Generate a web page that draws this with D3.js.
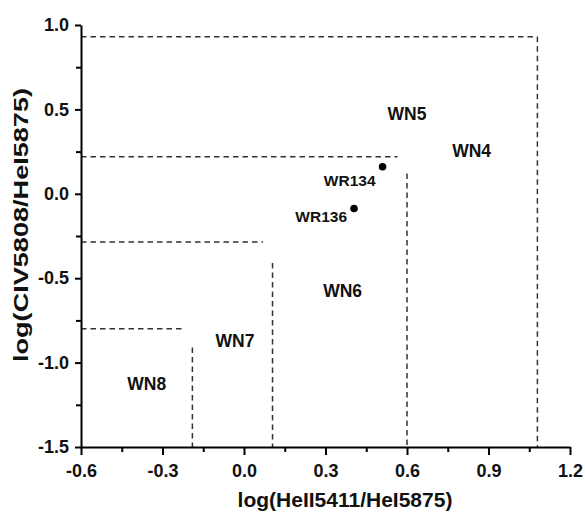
<!DOCTYPE html>
<html><head><meta charset="utf-8">
<script src="https://cdn.jsdelivr.net/npm/d3@7"></script>
<style>body{margin:0;background:#fff}svg{display:block}text{font-family:"Liberation Sans",Arial,sans-serif;font-weight:bold}</style>
</head><body><svg id="c" width="585" height="512"></svg>
<script>
const xTicks = [-0.6, -0.3, 0.0, 0.3, 0.6, 0.9, 1.2];
const yTicks = [-1.5, -1.0, -0.5, 0.0, 0.5, 1.0];
// dashed boundary segments [x1,y1,x2,y2] in data units
const boundaries = [
  [-0.6, 0.93, 1.08, 0.93], [1.08, 0.93, 1.08, -1.5],
  [-0.6, 0.22, 0.565, 0.22], [0.6, 0.12, 0.6, -1.5],
  [-0.6, -0.285, 0.07, -0.285], [0.105, -0.41, 0.105, -1.5],
  [-0.6, -0.8, -0.225, -0.8], [-0.19, -0.91, -0.19, -1.5]
];
const stars = ["WR134", "WR136"];
const starX = [0.51, 0.405];
const starY = [0.16, -0.087];
const classes = ["WN5", "WN4", "WN6", "WN7", "WN8"];
const classX = [0.6, 0.838, 0.363, -0.033, -0.358];
const classY = [0.474, 0.255, -0.575, -0.87, -1.125];

const svg = d3.select("#c");
const x = d3.scaleLinear().domain([-0.6, 1.2]).range([81, 570]);
const y = d3.scaleLinear().domain([-1.5, 1.0]).range([447, 25]);
const fmt = d => d.toFixed(1);

// boundaries
svg.append("g").selectAll("line").data(boundaries).join("line")
  .attr("x1", d => x(d[0])).attr("y1", d => y(d[1]))
  .attr("x2", d => x(d[2])).attr("y2", d => y(d[3]))
  .attr("stroke", "#333").attr("stroke-width", 1.5).attr("stroke-dasharray", "5.5,4");

// axes
const xMinor = d3.range(-0.45, 1.2, 0.3);
const yMinor = d3.range(-1.25, 1.0, 0.5);
svg.append("g").attr("transform", `translate(0,${y(-1.5)})`)
  .call(d3.axisBottom(x).tickValues(xTicks).tickFormat(fmt).tickSize(8).tickPadding(9).tickSizeOuter(0));
svg.append("g").attr("transform", `translate(0,${y(-1.5)})`)
  .call(d3.axisBottom(x).tickValues(xMinor).tickFormat("").tickSize(5).tickSizeOuter(0))
  .select(".domain").remove();
svg.append("g").attr("transform", `translate(${x(-0.6)},0)`)
  .call(d3.axisLeft(y).tickValues(yTicks).tickFormat(fmt).tickSize(6).tickPadding(6).tickSizeOuter(0));
svg.append("g").attr("transform", `translate(${x(-0.6)},0)`)
  .call(d3.axisLeft(y).tickValues(yMinor).tickFormat("").tickSize(5).tickSizeOuter(0))
  .select(".domain").remove();
svg.selectAll(".domain").attr("stroke", "#000").attr("stroke-width", 2);
svg.selectAll(".tick line").attr("stroke", "#000").attr("stroke-width", 2);
svg.selectAll(".tick text").style("font-size", "18px").attr("fill", "#111");

// axis titles
svg.append("text").attr("x", 345).attr("y", 507).attr("text-anchor", "middle")
  .attr("font-size", 21).attr("fill", "#111").text("log(HeII5411/HeI5875)");
svg.append("text").attr("transform", "translate(28,225) rotate(-90)").attr("text-anchor", "middle")
  .attr("font-size", 21).attr("textLength", 274).attr("lengthAdjust", "spacingAndGlyphs")
  .attr("fill", "#111").text("log(CIV5808/HeI5875)");

// points
const labelDy = [19, 14];
svg.append("g").selectAll("circle").data(stars).join("circle")
  .attr("cx", (d, i) => x(starX[i])).attr("cy", (d, i) => y(starY[i])).attr("r", 3.8).attr("fill", "#000");
svg.append("g").selectAll("text").data(stars).join("text")
  .attr("x", (d, i) => x(starX[i]) - 7).attr("y", (d, i) => y(starY[i]) + labelDy[i])
  .attr("text-anchor", "end").attr("font-size", 15.5).attr("fill", "#111").text(d => d);

// class labels
svg.append("g").selectAll("text").data(classes).join("text")
  .attr("x", (d, i) => x(classX[i])).attr("y", (d, i) => y(classY[i]) + 6.3)
  .attr("text-anchor", "middle").attr("font-size", 17.5).attr("fill", "#111").text(d => d);
</script></body></html>
